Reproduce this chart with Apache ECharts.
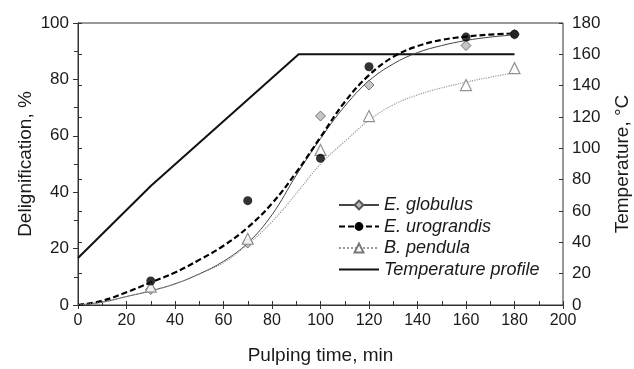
<!DOCTYPE html>
<html>
<head>
<meta charset="utf-8">
<script src="https://cdn.jsdelivr.net/npm/echarts@6/dist/echarts.min.js"></script>
<style>
  html, body { margin: 0; padding: 0; background: #fff; }
  #chart { width: 634px; height: 369px; }
</style>
</head>
<body>
<div id="chart"></div>
<script>
// measured points
const sampleTimes = [30, 70, 100, 120, 160, 180];
const globulusPts = [5.5, 22, 67, 78, 92, 96];
const urograndisPts = [8.5, 37, 52, 84.5, 95, 96];
const pendulaPts = [6.5, 23.5, 55, 67, 78, 84];

// fitted curves
const curveTimes = [0, 10, 20, 30, 40, 50, 60, 70, 80, 90, 100, 110, 120, 130, 140, 150, 160, 170, 180];
const globulusFit = [0, 1, 3, 5, 7.5, 11, 15.5, 22, 32, 46, 59, 70.5, 79.5, 85.5, 89.5, 92, 93.8, 95, 95.8];
const urograndisFit = [0, 1.5, 4.5, 8, 11.5, 16, 21, 27.5, 36, 47, 59.5, 72, 81.5, 88, 91.8, 94, 95.2, 95.9, 96.3];
const pendulaFit = [0, 1, 3, 5, 7.5, 11, 15, 21.5, 29.5, 39.5, 50, 58, 65.5, 71, 74.5, 77, 79, 80.8, 82.3];

// temperature profile
const tempTimes = [0, 30, 91, 180];
const tempValues = [30, 76, 160, 160];

const xTicks = [0, 200, 20];
const leftTicks = [0, 100, 20];
const rightTicks = [0, 180, 20];

const pairs = (xs, ys) => xs.map((x, i) => [x, ys[i]]);

const FONT = "'Liberation Sans', Arial, sans-serif";
const TEXT = "#1a1a1a";
const AXIS = "#333";

const chart = echarts.init(document.getElementById("chart"));
chart.setOption({
  animation: false,
  textStyle: { fontFamily: FONT, color: TEXT },
  grid: {
    left: 78, right: 71, top: 23, bottom: 64,
    containLabel: false, outerBoundsMode: "none",
    show: true, borderColor: AXIS, borderWidth: 1,
  },
  legend: {
    orient: "vertical",
    left: 333,
    top: 191,
    itemWidth: 40,
    itemHeight: 11,
    itemGap: 3.5,
    data: [
      "E. globulus",
      "E. urograndis",
      "B. pendula",
      { name: "Temperature profile", itemStyle: { opacity: 0 } },
    ],
    textStyle: { fontFamily: FONT, fontSize: 18, fontStyle: "italic", color: TEXT },
  },
  xAxis: [
    {
      type: "value",
      min: xTicks[0], max: xTicks[1], interval: xTicks[2],
      name: "Pulping time, min",
      nameLocation: "middle",
      nameMoveOverlap: false,
      nameGap: 41,
      nameTextStyle: { fontSize: 19, color: TEXT },
      axisLine: { lineStyle: { color: AXIS } },
      axisTick: { inside: false, length: 4, lineStyle: { color: AXIS } },
      axisLabel: { fontSize: 16, color: TEXT, margin: 8 },
      splitLine: { show: false },
    },
    {
      type: "value",
      position: "bottom",
      gridIndex: 0,
      min: xTicks[0], max: xTicks[1], interval: xTicks[2],
      axisLine: { show: false },
      axisTick: { inside: true, length: 4, lineStyle: { color: AXIS } },
      minorTick: { show: true, splitNumber: 2, length: 4, lineStyle: { color: AXIS } },
      axisLabel: { show: false },
      splitLine: { show: false },
    },
  ],
  yAxis: [
    {
      type: "value",
      min: leftTicks[0], max: leftTicks[1], interval: leftTicks[2],
      name: "Delignification, %",
      nameLocation: "middle",
      nameMoveOverlap: false,
      nameGap: 43,
      nameTextStyle: { fontSize: 19, color: TEXT },
      axisLine: { show: true, lineStyle: { color: AXIS } },
      axisTick: { show: true, inside: false, length: 5, lineStyle: { color: AXIS } },
      minorTick: { show: true, splitNumber: 2, length: 4, lineStyle: { color: AXIS } },
      axisLabel: { fontSize: 17, color: TEXT, margin: 9 },
      splitLine: { show: false },
    },
    {
      type: "value",
      position: "right",
      min: rightTicks[0], max: rightTicks[1], interval: rightTicks[2],
      name: "Temperature, °C",
      nameLocation: "middle",
      nameMoveOverlap: false,
      nameGap: 50,
      nameRotate: 90,
      nameTextStyle: { fontSize: 19, color: TEXT },
      axisLine: { show: true, lineStyle: { color: AXIS } },
      axisTick: { show: true, inside: false, length: 4, lineStyle: { color: AXIS } },
      axisLabel: { fontSize: 17, color: TEXT, margin: 9 },
      splitLine: { show: false },
    },
    {
      type: "value",
      position: "right",
      min: rightTicks[0], max: rightTicks[1], interval: rightTicks[2],
      axisLine: { show: false },
      axisTick: { show: true, inside: true, length: 4, lineStyle: { color: AXIS } },
      axisLabel: { show: false },
      splitLine: { show: false },
    },
  ],
  series: [
    {
      name: "E. globulus", type: "line", smooth: 0.4, showSymbol: false,
      symbol: "diamond", symbolSize: 10,
      itemStyle: { color: "#b8b8b8", borderColor: "#555", borderWidth: 1 },
      lineStyle: { color: "#444", width: 1 },
      data: pairs(curveTimes, globulusFit), z: 3,
    },
    {
      name: "E. urograndis", type: "line", smooth: 0.4, showSymbol: false,
      symbol: "circle", symbolSize: 9,
      itemStyle: { color: "#000" },
      lineStyle: { color: "#000", width: 2.2, type: [6, 3] },
      data: pairs(curveTimes, urograndisFit), z: 3,
    },
    {
      name: "B. pendula", type: "line", smooth: 0.4, showSymbol: false,
      symbol: "triangle", symbolSize: 11,
      itemStyle: { color: "#fff", borderColor: "#777", borderWidth: 1.2 },
      lineStyle: { color: "#999", width: 1.2, type: "dotted" },
      data: pairs(curveTimes, pendulaFit), z: 3,
    },
    {
      name: "Temperature profile", type: "line", yAxisIndex: 1, symbol: "none",
      itemStyle: { color: "#111" },
      lineStyle: { color: "#111", width: 2 },
      data: pairs(tempTimes, tempValues), z: 2,
    },
    {
      name: "E. globulus", type: "scatter", symbol: "diamond", symbolSize: 10,
      itemStyle: { color: "#b8b8b8", borderColor: "#555", borderWidth: 1 },
      data: pairs(sampleTimes, globulusPts), z: 4,
    },
    {
      name: "B. pendula", type: "scatter", symbol: "triangle", symbolSize: 11,
      itemStyle: { color: "#fff", borderColor: "#777", borderWidth: 1.2 },
      data: pairs(sampleTimes, pendulaPts), z: 4,
    },
    {
      name: "E. urograndis", type: "scatter", symbol: "circle", symbolSize: 9,
      itemStyle: { color: "#000" },
      data: pairs(sampleTimes, urograndisPts), z: 5,
    },
  ],
});
</script>
</body>
</html>
